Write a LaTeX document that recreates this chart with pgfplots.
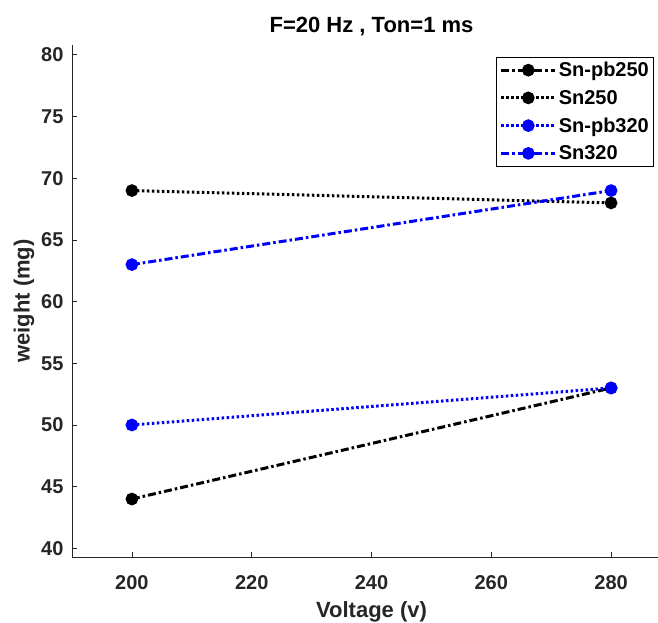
\documentclass[border=0pt]{standalone}
\usepackage{fontspec}
\setmainfont{Liberation Sans}
\usepackage{pgfplots}
\pgfplotsset{compat=1.18}
\definecolor{mblue}{rgb}{0,0,1}
\definecolor{axgray}{rgb}{0.15,0.15,0.15}
\begin{document}
\begin{tikzpicture}
\useasboundingbox (0pt,0pt) rectangle (658pt,623pt);
\clip (0pt,0pt) rectangle (658pt,623pt);
\begin{axis}[
  at={(72pt,66pt)}, anchor=south west,
  scale only axis, width=599pt, height=512pt,
  xmin=190, xmax=290, ymin=39.3, ymax=80.8,
  axis x line*=bottom, axis y line*=left,
  axis line style={-, axgray, line width=0.8pt},
  tick style={axgray, line width=0.8pt},
  tick align=inside, major tick length=5pt,
  xtick={200,220,...,280}, ytick={40,45,...,80},
  /pgf/number format/assume math mode=true,
  tick label style={font=\fontsize{20}{24}\selectfont\bfseries, text=axgray},
  xticklabel style={yshift=-15pt},
  yticklabel style={xshift=-5pt},
  title={F=20 Hz , Ton=1 ms},
  title style={font=\fontsize{22}{26}\selectfont\bfseries, at={(axis description cs:0.5,1.025)}, anchor=center},
  xlabel={Voltage (v)},
  ylabel={weight (mg)},
  every axis x label/.style={at={(axis description cs:0.5,-0.108)}, anchor=center, font=\fontsize{22}{26}\selectfont\bfseries, text=axgray},
  every axis y label/.style={at={(axis description cs:-0.08,0.5)}, anchor=center, rotate=90, font=\fontsize{22}{26}\selectfont\bfseries, text=axgray},
  legend style={at={(axis description cs:0.972,0.977)}, anchor=north east, draw=black, line width=0.8pt,
    font=\fontsize{20}{23}\selectfont\bfseries, row sep=8pt, inner sep=3pt, nodes={inner sep=2pt}},
  legend cell align=left,
  legend image code/.code={\draw[mark repeat=2,mark phase=2] plot coordinates {(0pt,0pt)(27pt,0pt)(54pt,0pt)};},
]
\addplot[black, line width=3pt, dash pattern=on 8pt off 3pt on 2.5pt off 3pt, mark=*, mark size=4.8pt, mark options={solid}] coordinates {(200,44) (280,53)};
\addlegendentry{Sn-pb250}
\addplot[black, line width=3pt, dash pattern=on 2.5pt off 2.5pt, mark=*, mark size=4.8pt, mark options={solid}] coordinates {(200,69) (280,68)};
\addlegendentry{Sn250}
\addplot[mblue, line width=3pt, dash pattern=on 2.5pt off 2.5pt, mark=*, mark size=4.8pt, mark options={solid}] coordinates {(200,50) (280,53)};
\addlegendentry{Sn-pb320}
\addplot[mblue, line width=3pt, dash pattern=on 8pt off 3pt on 2.5pt off 3pt, mark=*, mark size=4.8pt, mark options={solid}] coordinates {(200,63) (280,69)};
\addlegendentry{Sn320}
\end{axis}
\end{tikzpicture}
\end{document}
